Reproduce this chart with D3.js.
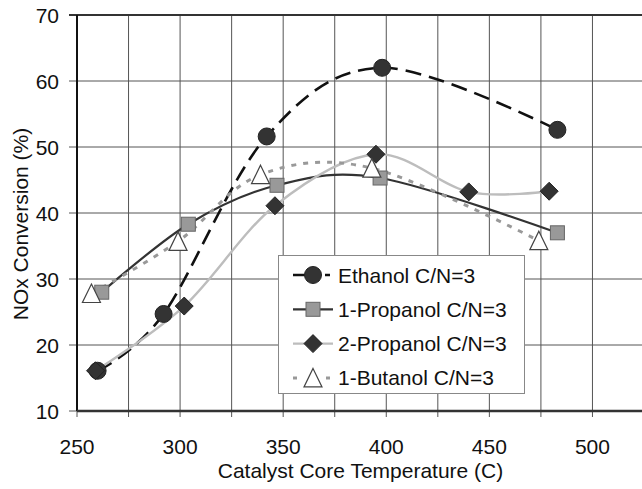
<!DOCTYPE html>
<html>
<head>
<meta charset="utf-8">
<script src="https://cdn.jsdelivr.net/npm/d3@7"></script>
<style>
  body { margin: 0; background: #fff; }
  svg { display: block; font-family: "Liberation Sans", Arial, sans-serif; }
</style>
</head>
<body>
<svg id="main-svg" width="642" height="489"></svg>
<script>
// series data (temperature C, NOx conversion %)
const ethanolX = [260, 292, 342, 398, 483];
const ethanolY = [16.1, 24.7, 51.6, 62.0, 52.6];
const propanol1X = [262, 304, 347, 397, 483];
const propanol1Y = [28.0, 38.3, 44.2, 45.3, 37.0];
const propanol2X = [259, 302, 346, 395, 440, 479];
const propanol2Y = [16.1, 25.9, 41.1, 48.9, 43.2, 43.3];
const butanol1X = [257, 299, 339, 393, 474];
const butanol1Y = [27.8, 35.7, 45.8, 46.8, 35.8];

const seriesNames = ['Ethanol C/N=3', '1-Propanol C/N=3', '2-Propanol C/N=3', '1-Butanol C/N=3'];
const xTicks = [250, 300, 350, 400, 450, 500];
const xGrid = [250, 275, 300, 325, 350, 375, 400, 425, 450, 475, 500, 525];
const yTicks = [10, 20, 30, 40, 50, 60, 70];

const svg = d3.select('#main-svg');

const x = d3.scaleLinear().domain([250, 525]).range([77, 644]);
const y = d3.scaleLinear().domain([10, 70]).range([411, 15]);

const zip = (xs, ys) => xs.map((v, i) => [v, ys[i]]);

const series = [
    { name: seriesNames[0], pts: zip(ethanolX, ethanolY), stroke: '#111', width: 2.6, dash: '16,8', marker: 'circle' },
    { name: seriesNames[1], pts: zip(propanol1X, propanol1Y), stroke: '#333', width: 2.2, dash: null, marker: 'square' },
    { name: seriesNames[2], pts: zip(propanol2X, propanol2Y), stroke: '#bdbdbd', width: 2.4, dash: null, marker: 'diamond' },
    { name: seriesNames[3], pts: zip(butanol1X, butanol1Y), stroke: '#999', width: 3, dash: '5,7', marker: 'triangle' },
];

// grid
svg.append('g')
    .selectAll('line.vg')
    .data(xGrid)
    .enter()
    .append('line')
    .attr('x1', d => x(d)).attr('x2', d => x(d))
    .attr('y1', y(70)).attr('y2', y(10) + 6)
    .attr('stroke', '#555').attr('stroke-width', 1);

svg.append('g')
    .selectAll('line.hg')
    .data(yTicks)
    .enter()
    .append('line')
    .attr('x1', x(250) - 8).attr('x2', 644)
    .attr('y1', d => y(d)).attr('y2', d => y(d))
    .attr('stroke', d => d === 70 ? '#333' : '#555')
    .attr('stroke-width', d => d === 70 ? 2 : 1);

// axis lines
svg.append('line')
    .attr('x1', x(250)).attr('x2', x(250))
    .attr('y1', y(70)).attr('y2', y(10))
    .attr('stroke', '#111').attr('stroke-width', 2);
svg.append('line')
    .attr('x1', x(250)).attr('x2', 644)
    .attr('y1', y(10)).attr('y2', y(10))
    .attr('stroke', '#333').attr('stroke-width', 2.5);

// tick labels
svg.append('g')
    .selectAll('text')
    .data(xTicks)
    .enter()
    .append('text')
    .attr('x', d => x(d)).attr('y', 454)
    .attr('text-anchor', 'middle')
    .attr('font-size', 21).attr('fill', '#111')
    .text(d => d);

svg.append('g')
    .selectAll('text')
    .data(yTicks)
    .enter()
    .append('text')
    .attr('x', 59).attr('y', d => y(d))
    .attr('dy', '0.36em')
    .attr('text-anchor', 'end')
    .attr('font-size', 21).attr('fill', '#111')
    .text(d => d);

// axis titles
svg.append('text')
    .attr('x', (x(250) + 644) / 2).attr('y', 478)
    .attr('text-anchor', 'middle')
    .attr('font-size', 21).attr('fill', '#111')
    .text('Catalyst Core Temperature (C)');

svg.append('text')
    .attr('transform', 'translate(28,224) rotate(-90)')
    .attr('text-anchor', 'middle')
    .attr('font-size', 21).attr('fill', '#111')
    .text('NOx Conversion (%)');

// lines
const line = d3.line()
    .x(d => x(d[0]))
    .y(d => y(d[1]))
    .curve(d3.curveCardinal.tension(0));

svg.append('g')
    .selectAll('path')
    .data(series)
    .enter()
    .append('path')
    .attr('d', d => line(d.pts))
    .attr('fill', 'none')
    .attr('stroke', d => d.stroke)
    .attr('stroke-width', d => d.width)
    .attr('stroke-dasharray', d => d.dash);

// markers
function drawMarker(g, type) {
    if (type === 'circle') {
        g.append('circle').attr('r', 8.5).attr('fill', '#333').attr('stroke', '#222');
    } else if (type === 'square') {
        g.append('rect').attr('x', -7).attr('y', -7).attr('width', 14).attr('height', 14)
            .attr('fill', '#999').attr('stroke', '#666').attr('stroke-width', 1);
    } else if (type === 'diamond') {
        g.append('path').attr('d', 'M0,-9L9,0L0,9L-9,0Z').attr('fill', '#333').attr('stroke', '#222');
    } else {
        g.append('path').attr('d', 'M0,-9.5L9,9L-9,9Z')
            .attr('fill', '#fff').attr('stroke', '#444').attr('stroke-width', 1.2);
    }
}

series.forEach(s => {
    svg.append('g')
        .selectAll('g')
        .data(s.pts)
        .enter()
        .append('g')
        .attr('transform', d => `translate(${x(d[0])},${y(d[1])})`)
        .each(function () { drawMarker(d3.select(this), s.marker); });
});

// legend
const legend = svg.append('g');
legend.append('rect')
    .attr('x', 278.5).attr('y', 255.5).attr('width', 246).attr('height', 138)
    .attr('fill', '#fff').attr('stroke', '#888').attr('stroke-width', 1);

const legendDash = ['12,20,5,10', null, null, '4,29,4,10'];

series.forEach((s, i) => {
    const cy = 275 + i * 34.3;
    const row = legend.append('g').attr('transform', `translate(0,${cy})`);
    row.append('line')
        .attr('x1', 293).attr('x2', 333).attr('y1', 0).attr('y2', 0)
        .attr('stroke', s.stroke).attr('stroke-width', s.width)
        .attr('stroke-dasharray', legendDash[i]);
    drawMarker(row.append('g').attr('transform', 'translate(313,0)'), s.marker);
    row.append('text')
        .attr('x', 338).attr('y', 0).attr('dy', '0.36em')
        .attr('font-size', 21).attr('fill', '#111')
        .text(s.name);
});
</script>
</body>
</html>
